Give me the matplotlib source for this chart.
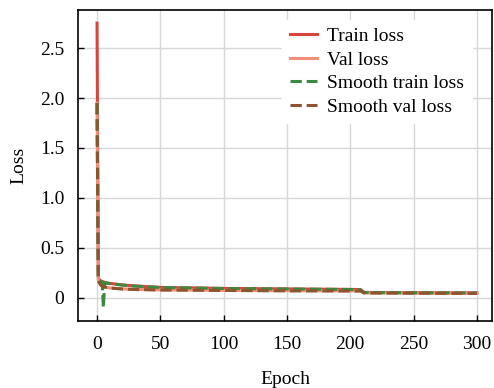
import matplotlib
matplotlib.use("Agg")
import matplotlib.pyplot as plt

plt.rcParams['font.family'] = ['Liberation Serif', 'DejaVu Serif']

# Data
epochs = [0, 1, 2, 3, 4, 5, 6, 10, 20, 30, 50, 75, 100, 150, 200, 208, 211, 250, 300]
train_loss = [2.75, 0.20, 0.18, 0.17, 0.165, 0.16, 0.155, 0.145, 0.13, 0.12, 0.105, 0.10,
              0.095, 0.09, 0.085, 0.083, 0.055, 0.052, 0.05]
val_loss = [1.95, 0.18, 0.15, 0.13, 0.12, 0.115, 0.11, 0.10, 0.09, 0.085, 0.08, 0.078,
            0.075, 0.072, 0.07, 0.07, 0.05, 0.048, 0.046]
smooth_train = [1.95, 0.19, 0.17, 0.165, 0.16, -0.1, 0.15, 0.143, 0.128, 0.118, 0.104, 0.099,
                0.094, 0.089, 0.084, 0.082, 0.054, 0.051, 0.049]
smooth_val = [1.95, 0.17, 0.145, 0.128, 0.118, 0.113, 0.108, 0.099, 0.089, 0.084, 0.079, 0.077,
              0.074, 0.071, 0.069, 0.069, 0.049, 0.047, 0.045]

fig = plt.figure(figsize=(4.94, 3.88), dpi=100)
ax = fig.add_axes([0.158, 0.173, 0.838, 0.801])

ax.plot(epochs, train_loss, color='#d9453d', lw=2.2, label='Train loss')
ax.plot(epochs, val_loss, color='#f0907a', lw=2.2, label='Val loss')
ax.plot(epochs, smooth_train, color='#3b8a40', lw=2.2, ls='--', label='Smooth train loss')
ax.plot(epochs, smooth_val, color='#8c5530', lw=2.2, ls='--', label='Smooth val loss')

ax.set_xlim(-15, 312)
ax.set_ylim(-0.23, 2.88)
ax.set_xticks([0, 50, 100, 150, 200, 250, 300])
ax.set_yticks([0, 0.5, 1.0, 1.5, 2.0, 2.5])
ax.set_yticklabels(['0', '0.5', '1.0', '1.5', '2.0', '2.5'])
ax.tick_params(direction='in', labelsize=14, length=4, width=1)
ax.tick_params(axis='x', pad=11)
ax.tick_params(axis='y', pad=10)
ax.grid(color='#d8d8d8', lw=1)
ax.set_axisbelow(True)
for s in ax.spines.values():
    s.set_linewidth(1.2)

ax.set_xlabel('Epoch', fontsize=14, labelpad=13)
ax.set_ylabel('Loss', fontsize=14, labelpad=9)
ax.legend(loc='upper right', bbox_to_anchor=(0.975, 1.0), fontsize=14, frameon=True,
          fancybox=False, edgecolor='white', framealpha=1, handlelength=1.4,
          borderpad=0.4, labelspacing=0.3, handletextpad=0.5)

fig.savefig('out.png', dpi=100)
